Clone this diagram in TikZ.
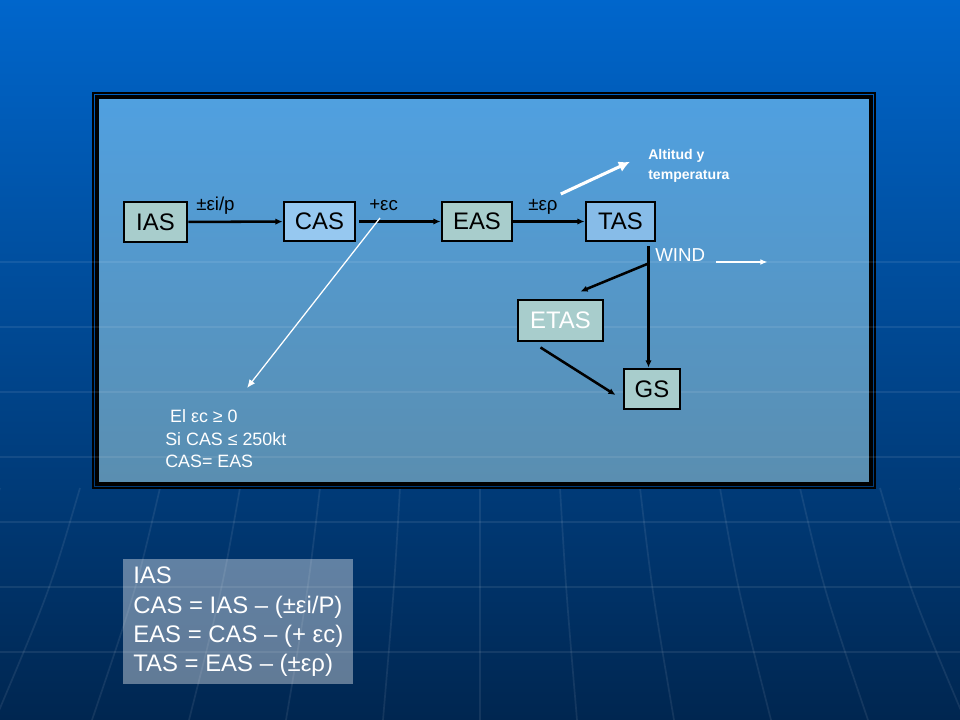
\documentclass[tikz,border=0pt]{standalone}
\usepackage{fontspec}
\setmainfont{Liberation Sans}
\usepackage{tikz}
\usetikzlibrary{arrows.meta,positioning,calc}
\definecolor{skytop}{RGB}{0,102,204}
\definecolor{skybot}{RGB}{0,38,80}
\definecolor{paneltop}{RGB}{80,160,224}
\definecolor{panelbot}{RGB}{90,142,176}
\definecolor{sage}{RGB}{168,205,204}
\definecolor{paleblue}{RGB}{150,200,240}
\definecolor{tasblue}{RGB}{135,188,232}

\begin{document}
\begin{tikzpicture}[x=0.025cm,y=-0.025cm,
  >=Latex,
  box/.style={draw=black,line width=2.1pt,minimum height=1cm,inner sep=0pt,font=\fontsize{17}{20}\selectfont},
  sbox/.style={box,fill=sage},
  bbox/.style={box,fill=paleblue},
  lbl/.style={anchor=base west,inner sep=0pt,font=\fontsize{13.3}{16}\selectfont},
  flow/.style={-{Latex[length=5pt,width=4.5pt]},line width=1.8pt,draw=black},
  hint/.style={-{Latex[length=6pt,width=5pt]},line width=0.9pt,draw=white},
  globe/.style={draw=white,draw opacity=0.08,line width=1.2pt}
]
\useasboundingbox (0,0) rectangle (960,720);
% backdrop
\shade[top color=skytop,bottom color=skybot] (0,0) rectangle (960,720);
\foreach \k in {-6,...,6} {\draw[globe] ({480+\k*80},488) .. controls ({480+\k*86},590) .. ({480+\k*97},720);}
% panel
\draw[black,line width=0.8pt] (93,93) rectangle (875,488);
\shade[top color=paneltop,bottom color=panelbot] (97,97) rectangle (871,484);
\draw[black,line width=2.5pt] (97,97) rectangle (871,484);
\foreach \y in {262,327,...,660} {\draw[globe] (0,\y) -- (960,\y);}

\node[sbox,minimum width=1.575cm] (IAS) at (155.5,222) {IAS};
\node[bbox,minimum width=1.775cm,minimum height=0.975cm] (CAS) at (319.5,221.5) {CAS};
\node[sbox,minimum width=1.75cm,minimum height=0.975cm] (EAS) at (477,221.5) {EAS};
\node[bbox,fill=tasblue,minimum width=1.725cm,minimum height=0.975cm] (TAS) at (620.5,221.5) {TAS};
\node[sbox,text=white,minimum width=2.125cm,minimum height=1.025cm] (ETAS) at (560.5,320.5) {ETAS};
\node[sbox,minimum width=1.4cm] (GS) at (652,389) {GS};

\node[lbl] (pi) at (196,211) {±εi/p};
\node[lbl] (pc) at (369,211) {+εc};
\node[lbl] (pr) at (528,211) {±ερ};
\node[anchor=north west,inner sep=0pt,align=left,text=white,font=\bfseries\fontsize{10}{14.2}\selectfont] (alt) at (648,149) {Altitud y\\temperatura};
\node[lbl,text=white] (wind) at (655,262) {WIND};
\node[anchor=north west,inner sep=0pt,align=left,text=white,font=\fontsize{12.7}{16.2}\selectfont] (note) at (165,409)
  {\ El εc ≥ 0\\Si CAS ≤ 250kt\\CAS= EAS};

\draw[flow] (IAS) -- (CAS);
\draw[flow,shorten <=2pt] (CAS) -- (EAS);
\draw[flow] (EAS) -- (TAS);
\coordinate (w0) at ($(TAS.south east)+(-8,4)$);
\coordinate (wsplit) at ($(w0)+(0,17)$);
\draw[flow] (w0) -- (w0 |- GS.north);
\draw[flow] (wsplit) -- ($(ETAS.north)+(20,-7)$);
\draw[flow] ($(ETAS.south)+(-20,5)$) -- ($(GS.west)+(-7,6)$);

\draw[hint] ($(pc.base west)+(11,7)$) -- ($(note.north west)+(82,-21)$);
\draw[-{Latex[length=8pt,width=8pt]},line width=2.2pt,white] ($(pr.base east)+(3,-17)$) -- ($(alt.west)+(-18,-4)$);
\draw[-{Latex[length=5pt,width=4pt]},line width=0.8pt,white] ($(wind.base east)+(11,0)$) -- ($(wind.base east)+(62,0)$);

\node[anchor=north west,fill=white,fill opacity=0.38,text opacity=1,text=white,inner sep=0pt,
  minimum width=5.75cm,minimum height=3.125cm,align=left,font=\fontsize{17}{20.8}\selectfont] (eqs) at (123,559)
  {IAS\\CAS = IAS – (±εi/P)\\EAS = CAS – (+ εc)\\TAS = EAS – (±ερ)};
\end{tikzpicture}
\end{document}
